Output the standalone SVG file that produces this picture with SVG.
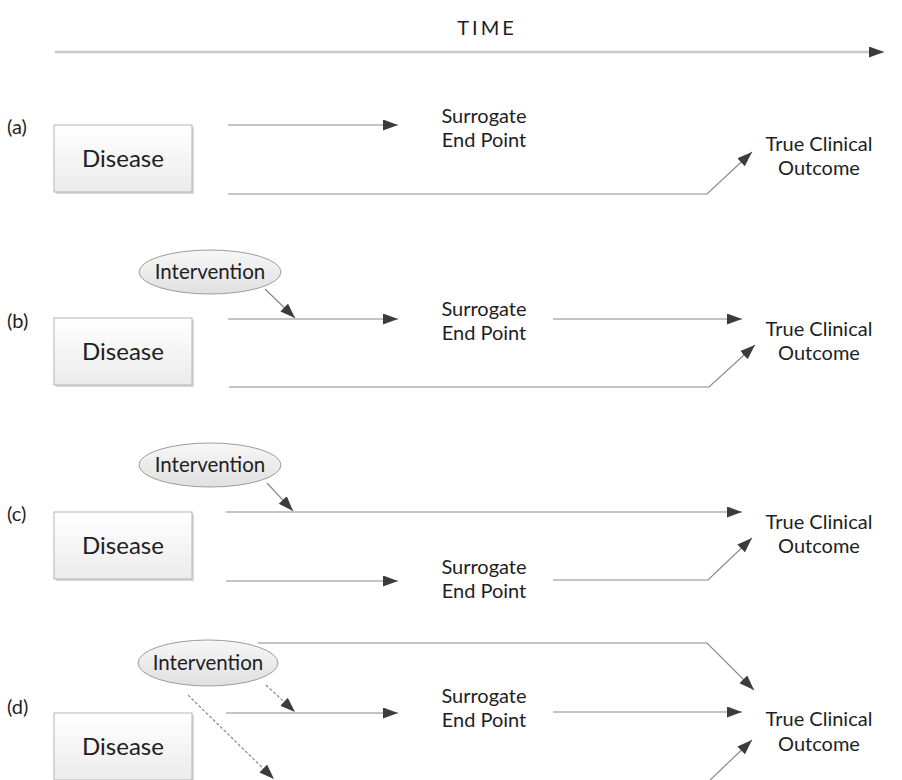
<svg xmlns="http://www.w3.org/2000/svg" width="902" height="780" viewBox="0 0 902 780">
<defs>
<linearGradient id="gBox" x1="0" y1="0" x2="0" y2="1"><stop offset="0" stop-color="#ffffff"/><stop offset="1" stop-color="#ebebeb"/></linearGradient>
<linearGradient id="gEll" x1="0" y1="0" x2="0" y2="1"><stop offset="0" stop-color="#f7f7f7"/><stop offset="1" stop-color="#e0e0e0"/></linearGradient>
<marker id="ah" markerUnits="userSpaceOnUse" markerWidth="16" markerHeight="12" refX="15" refY="5.5" orient="auto"><path d="M0,0 L15,5.5 L0,11 z" fill="#3c3c3c"/></marker>
<style>
text{font-family:Lato,"Open Sans","Liberation Sans",sans-serif;fill:#1e1e1e;text-anchor:middle}
.lbl{font-size:20px;text-anchor:start}
.dis{font-size:24px}
.t{font-size:20px}
.iv{font-size:20.5px}
.box{fill:url(#gBox);stroke:#b5b5b5;stroke-width:1}
.sh{fill:#d8d8d8}
.ell{fill:url(#gEll);stroke:#9c9c9c;stroke-width:1}
.c{fill:none;stroke:#8a8a8a;stroke-width:1.2;marker-end:url(#ah)}
.d{stroke-dasharray:3,2}
.time{font-size:20px;letter-spacing:3px}
</style>
</defs>
<rect width="902" height="780" fill="#fff"/>
<g id="time"><text class="time" x="487" y="35">TIME</text></g>
<g id="connectors">
<path d="M55,52 H884" fill="none" stroke="#c8c8c8" stroke-width="2.5" marker-end="url(#ah)"/>
<path class="c" d="M228,125 H398"/>
<path class="c" d="M228,194 H707 L752,152"/>
<path class="c" d="M228,319 H398"/>
<path class="c" d="M265,289 L295,318"/>
<path class="c" d="M553,319 H742"/>
<path class="c" d="M229,387 H709 L755,345"/>
<path class="c" d="M267,483 L293,511"/>
<path class="c" d="M226,512 H742"/>
<path class="c" d="M226,581 H398"/>
<path class="c" d="M553,580 H708 L752,538"/>
<path class="c" d="M258,643 H707 L754,690"/>
<path class="c d" d="M266,685 L295,712"/>
<path class="c d" d="M188,695 L274,779"/>
<path class="c" d="M226,713 H398"/>
<path class="c" d="M553,712 H742"/>
<path class="c" d="M226,782 H708 L752,740"/>
</g>
<g id="panel-a">
<text class="lbl" x="7" y="134">(a)</text>
<g id="a-disease"><rect class="sh" x="56" y="127" width="138" height="67"/><rect class="box" x="54" y="125" width="138" height="67"/><text class="dis" x="123" y="167">Disease</text></g>
<g id="a-surrogate"><text class="t" x="484" y="123">Surrogate</text><text class="t" x="484" y="147">End Point</text></g>
<g id="a-outcome"><text class="t" x="819" y="151">True Clinical</text><text class="t" x="819" y="175">Outcome</text></g>
</g>
<g id="panel-b">
<text class="lbl" x="7" y="328">(b)</text>
<g id="b-disease"><rect class="sh" x="56" y="320" width="138" height="67"/><rect class="box" x="54" y="318" width="138" height="67"/><text class="dis" x="123" y="360">Disease</text></g>
<g id="b-intervention"><ellipse class="ell" cx="210" cy="272" rx="71" ry="22"/><text class="iv" x="210" y="279">Intervention</text></g>
<g id="b-surrogate"><text class="t" x="484" y="316">Surrogate</text><text class="t" x="484" y="340">End Point</text></g>
<g id="b-outcome"><text class="t" x="819" y="336">True Clinical</text><text class="t" x="819" y="360">Outcome</text></g>
</g>
<g id="panel-c">
<text class="lbl" x="7" y="521">(c)</text>
<g id="c-disease"><rect class="sh" x="56" y="514" width="138" height="67"/><rect class="box" x="54" y="512" width="138" height="67"/><text class="dis" x="123" y="554">Disease</text></g>
<g id="c-intervention"><ellipse class="ell" cx="210" cy="465" rx="71" ry="22"/><text class="iv" x="210" y="472">Intervention</text></g>
<g id="c-surrogate"><text class="t" x="484" y="574">Surrogate</text><text class="t" x="484" y="598">End Point</text></g>
<g id="c-outcome"><text class="t" x="819" y="529">True Clinical</text><text class="t" x="819" y="553">Outcome</text></g>
</g>
<g id="panel-d">
<text class="lbl" x="7" y="714">(d)</text>
<g id="d-disease"><rect class="sh" x="56" y="715" width="138" height="67"/><rect class="box" x="54" y="713" width="138" height="67"/><text class="dis" x="123" y="755">Disease</text></g>
<g id="d-intervention"><ellipse class="ell" cx="208" cy="663" rx="70" ry="23"/><text class="iv" x="208" y="670">Intervention</text></g>
<g id="d-surrogate"><text class="t" x="484" y="703">Surrogate</text><text class="t" x="484" y="727">End Point</text></g>
<g id="d-outcome"><text class="t" x="819" y="726">True Clinical</text><text class="t" x="819" y="751">Outcome</text></g>
</g>
</svg>
